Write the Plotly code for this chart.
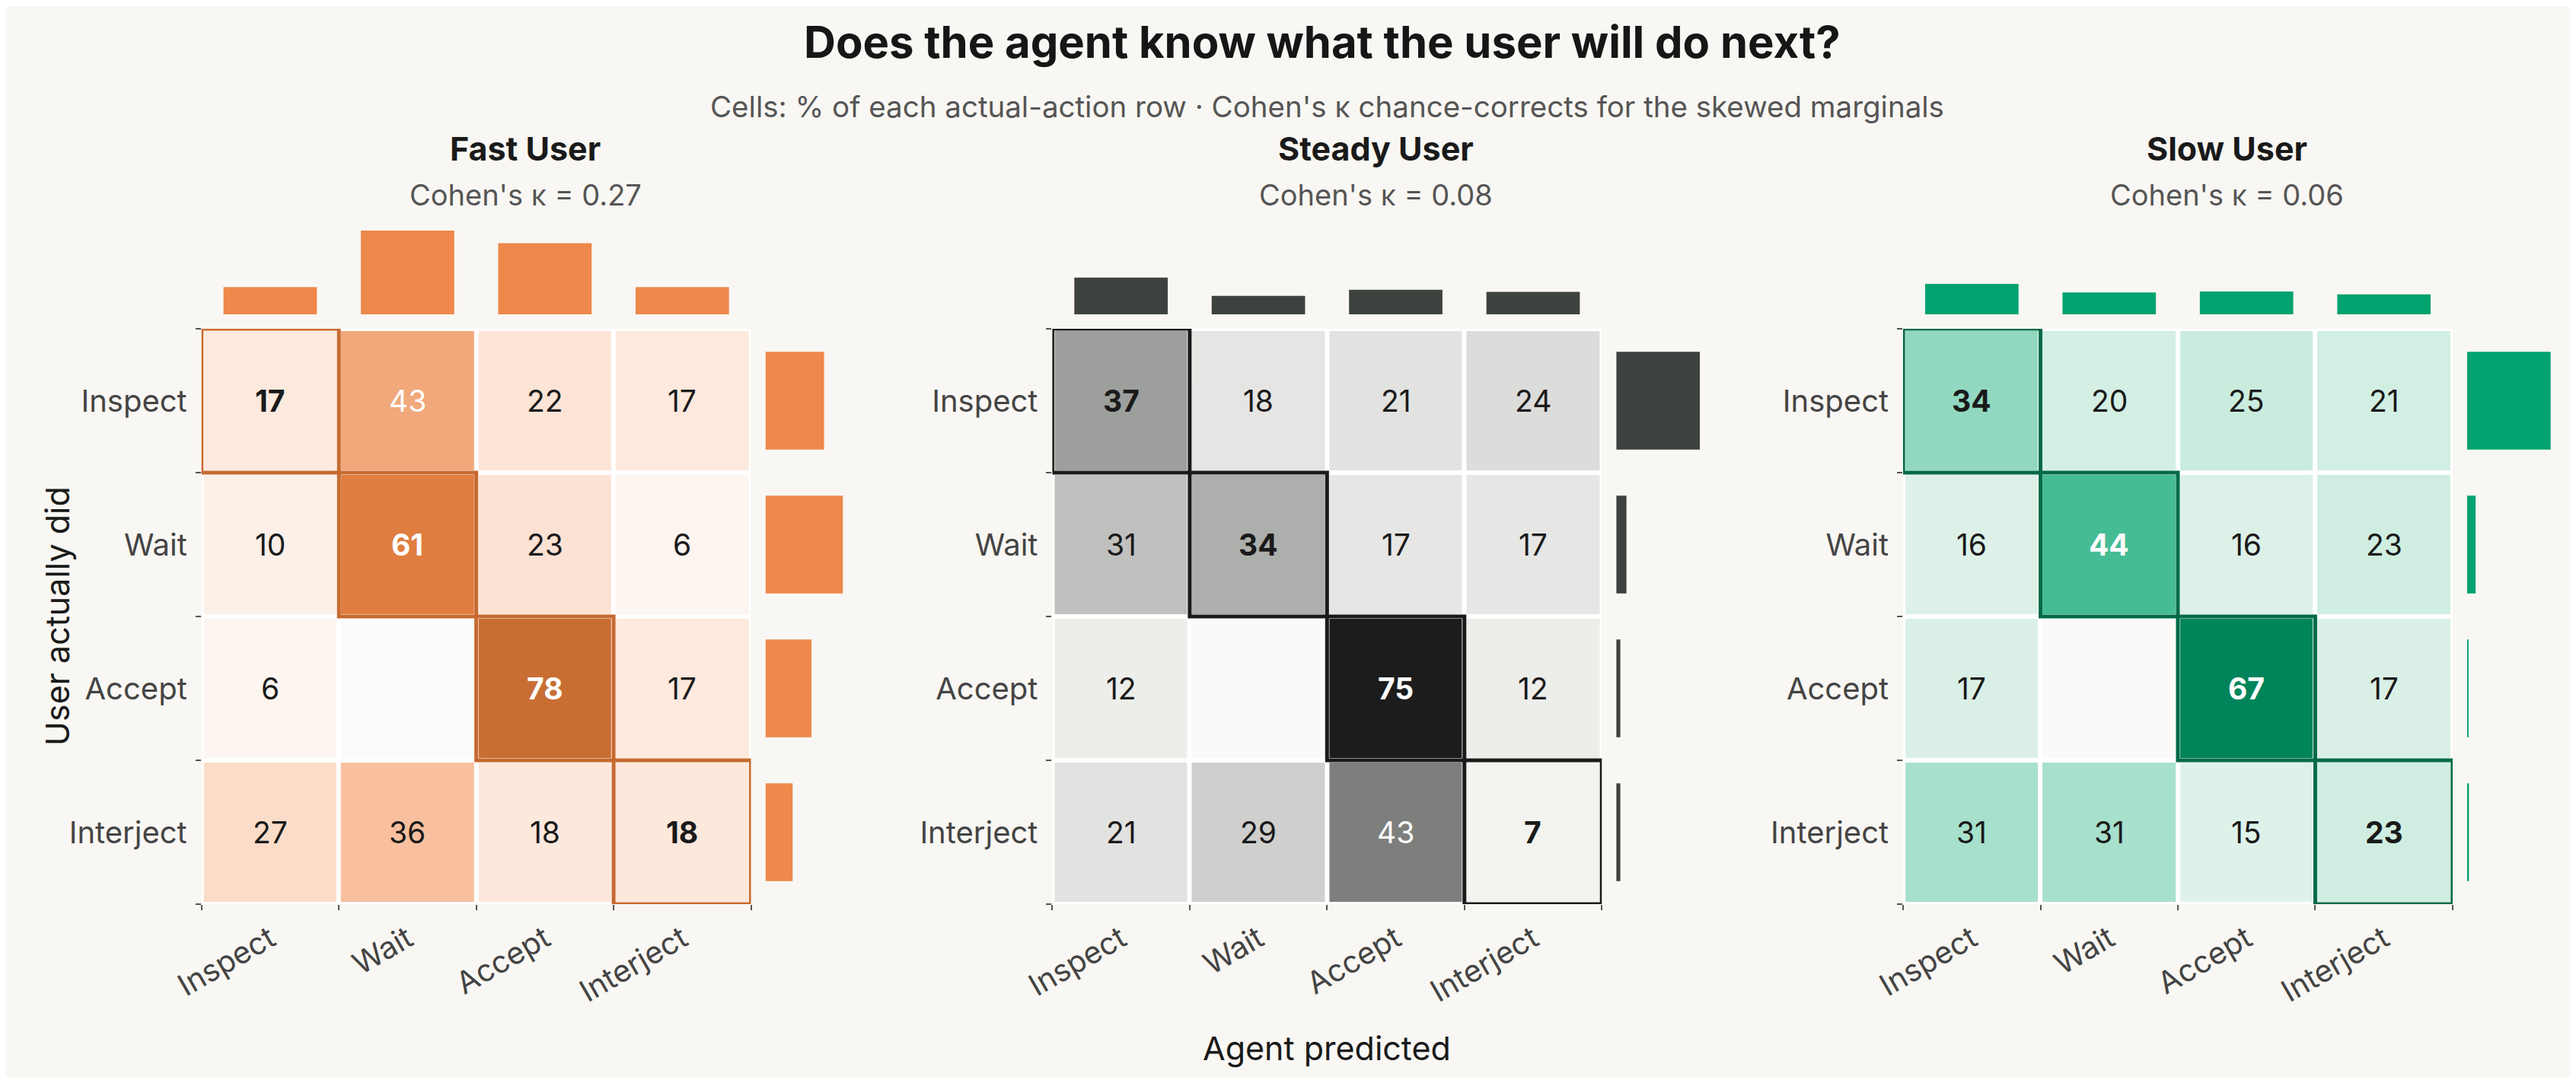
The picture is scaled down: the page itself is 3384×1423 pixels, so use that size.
import plotly.graph_objects as go

# target picture size; the html body keeps its default 8px margin, so the figure is drawn inside it
W, H = 3384, 1423
OFF = 8
FW, FH = W - 2 * OFF, H - 2 * OFF
# measured horizontal placement of the page inside the returned picture (picture_x = SX_OFF + SX_SCALE * page_x)
SX_OFF, SX_SCALE = 39.3, 0.9887

actions = ["Inspect", "Wait", "Accept", "Interject"]
panel_names = ["Fast User", "Steady User", "Slow User"]
kappas = [0.27, 0.08, 0.06]

# cells: % of each actual-action row (rows = user did, cols = agent predicted); 0 = empty cell
fast_pct = [[17, 43, 22, 17],
            [10, 61, 23, 6],
            [6, 0, 78, 17],
            [27, 36, 18, 18]]
steady_pct = [[37, 18, 21, 24],
              [31, 34, 17, 17],
              [12, 0, 75, 12],
              [21, 29, 43, 7]]
slow_pct = [[34, 20, 25, 21],
            [16, 44, 16, 23],
            [17, 0, 67, 17],
            [31, 31, 15, 23]]

# marginal shares (%): what the user actually did (right bars), what the agent predicted (top bars)
fast_actual = [28, 37, 22, 13]
fast_predicted = [13, 40, 34, 13]
steady_actual = [82, 10, 4, 4]
steady_predicted = [36, 18, 24, 22]
slow_actual = [88, 9, 1, 2]
slow_predicted = [32, 23, 24, 21]

panels = [
    dict(pct=fast_pct, actual=fast_actual, predicted=fast_predicted, bar="#EE884B", edge="#C66A2F",
         stops=[(0, "#fcfbf9"), (6, "#fdf5f0"), (10, "#fcf0e8"), (17, "#fde9dd"), (22, "#fce4d6"),
                (27, "#fbdcc9"), (36, "#f8c09f"), (43, "#f1a87b"), (61, "#e07d40"), (78, "#c86e33")]),
    dict(pct=steady_pct, actual=steady_actual, predicted=steady_predicted, bar="#3D423E", edge="#1A1A1A",
         stops=[(0, "#fbfaf8"), (7, "#f3f3f0"), (12, "#edeeea"), (17, "#e6e6e4"), (21, "#e2e2e0"),
                (24, "#dcdcda"), (29, "#cfcfcd"), (31, "#c0c1bf"), (34, "#adafac"), (37, "#9d9f9c"),
                (43, "#7d7f7c"), (75, "#1c1c1c")]),
    dict(pct=slow_pct, actual=slow_actual, predicted=slow_predicted, bar="#00A370", edge="#006B47",
         stops=[(0, "#fbfaf8"), (15, "#dff2ea"), (17, "#daf0e6"), (20, "#d4efe4"), (23, "#cfeee1"),
                (25, "#c9ecdf"), (31, "#a7e0cc"), (34, "#92d8c0"), (44, "#46bc94"), (67, "#00845a")]),
]

FONT = "Inter"
BG = "#F9F7F3"

# picture-pixel layout of the three heatmaps, shared vertical extent
heat_left = [265, 1383, 2501]
heat_w = 722
heat_top, heat_bot = 432, 1188
gap = 19
bar_len = 110


def fx(s):
    page = (s - SX_OFF) / SX_SCALE
    return (page - OFF) / FW


def fy(p):
    return 1 - (p - OFF) / FH


def sfx(i):
    return "" if i == 1 else str(i)


fig = go.Figure()
layout = {}
shapes = []
annotations = []

for k, pn in enumerate(panels):
    ih, it, ir = 3 * k + 1, 3 * k + 2, 3 * k + 3
    zmax = max(max(r) for r in pn["pct"])
    cscale = [[v / zmax, c] for v, c in pn["stops"]]
    mmax = max(max(pn["actual"]), max(pn["predicted"]))

    x0, x1 = heat_left[k], heat_left[k] + heat_w
    hx = [fx(x0), fx(x1)]
    hy = [fy(heat_bot), fy(heat_top)]

    fig.add_trace(go.Heatmap(
        z=pn["pct"], x=[0, 1, 2, 3], y=[0, 1, 2, 3],
        colorscale=cscale, zmin=0, zmax=zmax, showscale=False,
        xgap=6, ygap=6, hoverinfo="skip",
        xaxis="x" + sfx(ih), yaxis="y" + sfx(ih)))
    fig.add_trace(go.Bar(
        x=[0, 1, 2, 3], y=pn["predicted"], width=0.68, marker_color=pn["bar"],
        marker_line_width=0, hoverinfo="skip",
        xaxis="x" + sfx(it), yaxis="y" + sfx(it)))
    fig.add_trace(go.Bar(
        x=pn["actual"], y=[0, 1, 2, 3], orientation="h", width=0.68, marker_color=pn["bar"],
        marker_line_width=0, hoverinfo="skip",
        xaxis="x" + sfx(ir), yaxis="y" + sfx(ir)))

    minor = dict(tickmode="array", tickvals=[-0.5, 0.5, 1.5, 2.5, 3.5], ticks="outside",
                 ticklen=7, tickwidth=2, tickcolor="#555555", showgrid=False)
    tick_font = dict(family=FONT, size=40, color="#444444")
    layout["xaxis" + sfx(ih)] = dict(
        domain=hx, range=[-0.5, 3.5], anchor="y" + sfx(ih), tickmode="array",
        tickvals=[0, 1, 2, 3], ticktext=actions, tickangle=-30, ticks="",
        tickfont=tick_font, ticklabelstandoff=14,
        showgrid=False, zeroline=False, showline=False, minor=minor)
    layout["yaxis" + sfx(ih)] = dict(
        domain=hy, range=[3.5, -0.5], anchor="x" + sfx(ih), tickmode="array",
        tickvals=[0, 1, 2, 3], ticktext=actions, ticks="",
        tickfont=tick_font, ticklabelstandoff=18,
        showgrid=False, zeroline=False, showline=False, minor=minor)
    layout["xaxis" + sfx(it)] = dict(domain=hx, range=[-0.5, 3.5], anchor="y" + sfx(it), visible=False)
    layout["yaxis" + sfx(it)] = dict(domain=[fy(heat_top - gap), fy(heat_top - gap - bar_len)],
                                     range=[0, mmax], anchor="x" + sfx(it), visible=False)
    layout["xaxis" + sfx(ir)] = dict(domain=[fx(x1 + gap), fx(x1 + gap + bar_len)],
                                     range=[0, mmax], anchor="y" + sfx(ir), visible=False)
    layout["yaxis" + sfx(ir)] = dict(domain=hy, range=[3.5, -0.5], anchor="x" + sfx(ir), visible=False)

    xr, yr = "x" + sfx(ih), "y" + sfx(ih)
    shapes.append(dict(type="rect", xref=xr, yref=yr, x0=-0.5, x1=3.5, y0=-0.5, y1=3.5,
                       fillcolor="#ffffff", line_width=0, layer="below"))
    for i in range(4):
        shapes.append(dict(type="rect", xref=xr, yref=yr, x0=i - 0.5, x1=i + 0.5,
                           y0=i - 0.5, y1=i + 0.5, line=dict(color=pn["edge"], width=5),
                           fillcolor="rgba(0,0,0,0)", layer="above"))

    for r in range(4):
        for c in range(4):
            v = pn["pct"][r][c]
            if v == 0:
                continue
            txt = f"<b>{v}</b>" if r == c else str(v)
            annotations.append(dict(
                x=c, y=r, xref=xr, yref=yr, text=txt, showarrow=False,
                font=dict(family=FONT, size=39, color="#ffffff" if v >= 40 else "#1a1a1a")))

    # panel headings sit over the heatmap plus its side bars
    cx = fx((x0 + x1 + gap + bar_len) / 2)
    annotations.append(dict(x=cx, y=fy(195), xref="paper", yref="paper", text=f"<b>{panel_names[k]}</b>",
                            showarrow=False, xanchor="center", yanchor="middle",
                            font=dict(family=FONT, size=43, color="#1a1a1a")))
    annotations.append(dict(x=cx, y=fy(256), xref="paper", yref="paper",
                            text=f"Cohen's \u03ba = {kappas[k]:.2f}",
                            showarrow=False, xanchor="center", yanchor="middle",
                            font=dict(family=FONT, size=38, color="#555555")))

annotations.append(dict(x=fx(1738), y=fy(55), xref="paper", yref="paper",
                        text="<b>Does the agent know what the user will do next?</b>",
                        showarrow=False, xanchor="center", yanchor="middle",
                        font=dict(family=FONT, size=58, color="#161616")))
annotations.append(dict(x=fx(1744), y=fy(140), xref="paper", yref="paper",
                        text="Cells: % of each actual-action row \u00b7 Cohen's \u03ba chance-corrects for the skewed marginals",
                        showarrow=False, xanchor="center", yanchor="middle",
                        font=dict(family=FONT, size=38.5, color="#555555")))
annotations.append(dict(x=fx(1744), y=fy(1377), xref="paper", yref="paper", text="Agent predicted",
                        showarrow=False, xanchor="center", yanchor="middle",
                        font=dict(family=FONT, size=43, color="#1a1a1a")))
# as far left as the page allows
annotations.append(dict(x=0.0, y=fy(810), xref="paper", yref="paper", text="User actually did",
                        showarrow=False, xanchor="left", yanchor="middle", textangle=-90,
                        font=dict(family=FONT, size=43, color="#1a1a1a")))

fig.update_layout(
    width=FW, height=FH, margin=dict(l=0, r=0, t=0, b=0),
    paper_bgcolor=BG, plot_bgcolor=BG, showlegend=False,
    font=dict(family=FONT), shapes=shapes, annotations=annotations, **layout)

fig.write_html("out.html")
